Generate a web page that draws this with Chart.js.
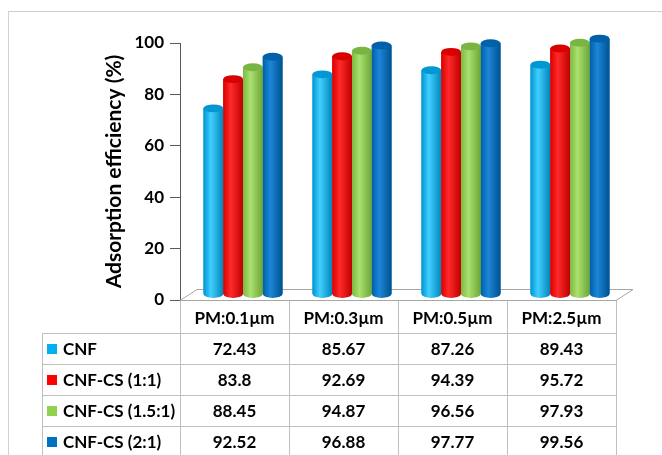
<!DOCTYPE html>
<html>
<head>
<meta charset="utf-8">
<script src="https://cdn.jsdelivr.net/npm/chart.js@4.4.1/dist/chart.umd.min.js"></script>
<style>
  html, body { margin: 0; padding: 0; background: #fff; }
  #wrap { position: relative; width: 662px; height: 455px; }
</style>
</head>
<body>
<div id="wrap"><canvas id="c" width="662" height="455"></canvas></div>
<script>
// Particle size classes (columns of the data table)
const categories = ['PM:0.1\u00b5m', 'PM:0.3\u00b5m', 'PM:0.5\u00b5m', 'PM:2.5\u00b5m'];

// Adsorption efficiency (%) for each membrane
const seriesNames = ['CNF', 'CNF-CS (1:1)', 'CNF-CS (1.5:1)', 'CNF-CS (2:1)'];
const cnf      = [72.43, 85.67, 87.26, 89.43];
const cnfCs11  = [83.8, 92.69, 94.39, 95.72];
const cnfCs151 = [88.45, 94.87, 96.56, 97.93];
const cnfCs21  = [92.52, 96.88, 97.77, 99.56];

// Value labels shown in the table (same numbers as the bars)
const tableText = [
  ['72.43', '85.67', '87.26', '89.43'],
  ['83.8', '92.69', '94.39', '95.72'],
  ['88.45', '94.87', '96.56', '97.93'],
  ['92.52', '96.88', '97.77', '99.56']
];

const yTicks = [0, 20, 40, 60, 80, 100];

// Cylinder shading: [left edge, highlight, right edge, cap]
const palette = [
  { base: '#00b0f0', shade: ['#0094cf', '#41cfff', '#0086bb', '#0098d2'] },
  { base: '#ff0000', shade: ['#d90000', '#ff2a2a', '#bf0000', '#d80000'] },
  { base: '#92d050', shade: ['#7dba3e', '#a9e070', '#6ea635', '#79b543'] },
  { base: '#0070c0', shade: ['#005fa8', '#1c86d8', '#00528f', '#0060a8'] }
];

const FONT = 'Lato, "Open Sans", "Liberation Sans", sans-serif';
const DEPTH_X = 17, DEPTH_Y = -11;

Chart.defaults.font.family = FONT;
Chart.defaults.font.weight = 'bold';
Chart.defaults.color = '#000';

const allSeries = [cnf, cnfCs11, cnfCs151, cnfCs21];

// Frame, floor, cylinders and the data table body
const depthPlugin = {
  id: 'depth',
  beforeDraw(chart) {
    const ctx = chart.ctx;
    ctx.save();
    ctx.strokeStyle = '#d0d0d0';
    ctx.lineWidth = 1;
    ctx.strokeRect(8.5, 11.5, 700, 500);
    ctx.restore();
  },
  beforeDatasetsDraw(chart) {
    const { ctx, chartArea: a } = chart;
    ctx.save();
    ctx.beginPath();
    ctx.moveTo(a.left, a.bottom + 0.5);
    ctx.lineTo(a.right, a.bottom + 0.5);
    ctx.lineTo(a.right + DEPTH_X, a.bottom + DEPTH_Y + 0.5);
    ctx.lineTo(a.left + DEPTH_X, a.bottom + DEPTH_Y + 0.5);
    ctx.closePath();
    ctx.fillStyle = '#ffffff';
    ctx.fill();
    ctx.strokeStyle = '#a6a6a6';
    ctx.lineWidth = 1;
    ctx.stroke();
    ctx.restore();
    ctx.save();
    ctx.translate(DEPTH_X / 2, DEPTH_Y / 2);
  },
  afterDatasetsDraw(chart) {
    const ctx = chart.ctx;
    chart.data.datasets.forEach((ds, di) => {
      const meta = chart.getDatasetMeta(di);
      const sh = palette[di].shade;
      meta.data.forEach(el => {
        const { x, y, base, width } = el.getProps(['x', 'y', 'base', 'width'], true);
        const l = x - width / 2, r = x + width / 2, rx = width / 2, ry = width * 0.2;
        const g = ctx.createLinearGradient(l, 0, r, 0);
        g.addColorStop(0, sh[0]);
        g.addColorStop(0.38, sh[1]);
        g.addColorStop(1, sh[2]);
        ctx.beginPath();
        ctx.moveTo(l, y);
        ctx.lineTo(l, base);
        ctx.ellipse(x, base, rx, ry, 0, Math.PI, 0, true);
        ctx.lineTo(r, y);
        ctx.closePath();
        ctx.fillStyle = g;
        ctx.fill();
        ctx.beginPath();
        ctx.ellipse(x, y, rx, ry, 0, 0, Math.PI * 2);
        ctx.fillStyle = sh[3];
        ctx.fill();
      });
    });
    ctx.restore();

    // Data table under the category axis
    const xs = chart.scales.x;
    const a = chart.chartArea;
    const colW = (a.right - a.left) / categories.length;
    const rowTop = a.bottom + 33, rowH = 31, tableLeft = 42;
    ctx.save();
    ctx.strokeStyle = '#bfbfbf';
    ctx.lineWidth = 1;
    ctx.beginPath();
    for (let i = 0; i < seriesNames.length; i++) {
      const yy = Math.round(rowTop + i * rowH) + 0.5;
      ctx.moveTo(tableLeft, yy);
      ctx.lineTo(a.right, yy);
    }
    ctx.moveTo(tableLeft + 0.5, rowTop);
    ctx.lineTo(tableLeft + 0.5, 470);
    ctx.stroke();

    ctx.font = 'bold 17px ' + FONT;
    ctx.textBaseline = 'middle';
    seriesNames.forEach((name, i) => {
      const cy = rowTop + i * rowH + rowH / 2;
      ctx.fillStyle = palette[i].base;
      ctx.fillRect(47, Math.round(cy - 5), 10, 10);
      ctx.fillStyle = '#000';
      ctx.textAlign = 'left';
      ctx.fillText(name, 63, cy + 1);
      ctx.textAlign = 'center';
      tableText[i].forEach((t, j) => {
        ctx.fillText(t, xs.getPixelForValue(j), cy + 1);
      });
    });
    ctx.restore();
  }
};

new Chart(document.getElementById('c'), {
  type: 'bar',
  data: {
    labels: categories,
    datasets: seriesNames.map((n, i) => ({
      label: n,
      data: allSeries[i],
      backgroundColor: palette[i].base,
      borderWidth: 0,
      barPercentage: 1.0,
      categoryPercentage: 0.725
    }))
  },
  options: {
    responsive: false,
    animation: false,
    layout: { padding: { top: 43, right: 46, bottom: 0, left: 0 } },
    plugins: { legend: { display: false }, tooltip: { enabled: false } },
    scales: {
      x: {
        grid: { drawOnChartArea: false, drawTicks: true, tickLength: 155, color: '#bfbfbf', offset: true },
        border: { display: true, color: '#a6a6a6' },
        ticks: { padding: -147, font: { size: 17, weight: 'bold' }, color: '#000', maxRotation: 0 },
        afterFit(s) { s.height = 155; }
      },
      y: {
        min: 0, max: 100,
        afterBuildTicks(s) { s.ticks = yTicks.map(v => ({ value: v })); },
        grid: { drawOnChartArea: false, drawTicks: true, tickLength: 10, color: '#595959' },
        border: { display: true, color: '#595959' },
        ticks: { padding: 6, font: { size: 17, weight: 'bold' }, color: '#000' },
        title: {
          display: true, text: 'Adsorption efficiency (%)', color: '#000',
          font: { size: 21, weight: 'bold' }, padding: { top: 102, bottom: 0 }
        },
        afterFit(s) { s.width = 180; }
      }
    }
  },
  plugins: [depthPlugin]
});
</script>
</body>
</html>
